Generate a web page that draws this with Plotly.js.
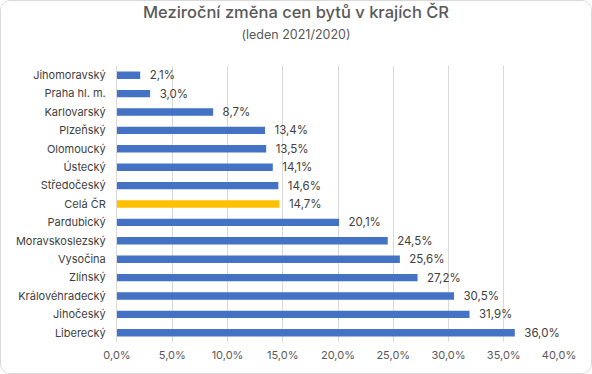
<!DOCTYPE html>
<html>
<head>
<meta charset="utf-8">
<script src="https://cdn.plot.ly/plotly-3.0.1.min.js"></script>
<style>
html,body{margin:0;padding:0;background:#fff;}
#chart{width:592px;height:374px;box-sizing:border-box;border:1px solid #d9d9d9;border-radius:10px;overflow:hidden;}
</style>
</head>
<body>
<div id="chart"></div>
<script>
const regions = ["Jihomoravský","Praha hl. m.","Karlovarský","Plzeňský","Olomoucký","Ústecký","Středočeský","Celá ČR","Pardubický","Moravskoslezský","Vysočina","Zlínský","Královéhradecký","Jihočeský","Liberecký"];
const changes = [2.1,3.0,8.7,13.4,13.5,14.1,14.6,14.7,20.1,24.5,25.6,27.2,30.5,31.9,36.0];
const highlight = "Celá ČR";
const xTicks = [0,5,10,15,20,25,30,35,40];

const colors = regions.map(r => r === highlight ? "#FFC000" : "#4472C4");
const font = "Inter, 'Noto Sans', sans-serif";

Plotly.newPlot("chart", [{
  type: "bar",
  orientation: "h",
  y: regions,
  x: changes,
  marker: {color: colors},
  width: 0.4,
  texttemplate: "\u00a0\u00a0%{x:.1f}%",
  textposition: "outside",
  constraintext: "none",
  cliponaxis: false,
  textfont: {family: font, size: 11.5, color: "#404040"},
  hoverinfo: "none"
}], {
  width: 590, height: 372,
  margin: {l: 116, r: 32, t: 65, b: 31},
  paper_bgcolor: "#fff", plot_bgcolor: "#fff",
  separators: ", ",
  showlegend: false,
  title: {
    text: "Meziroční změna cen bytů v krajích ČR<br><span style='font-size:12.5px;font-weight:normal'>(leden 2021/2020)</span>",
    x: 0.5, xanchor: "center", y: 0.955, yanchor: "top",
    font: {family: font, size: 16.5, color: "#595959", weight: 500}
  },
  xaxis: {
    range: [0, 40],
    tickvals: xTicks,
    ticktext: xTicks.map(v => v.toFixed(1).replace(".", ",") + "%"),
    showgrid: true, gridcolor: "#d9d9d9", gridwidth: 1,
    zeroline: false, showline: false, ticks: "", ticklabelstandoff: 5,
    tickfont: {family: font, size: 11, color: "#595959"},
    fixedrange: true
  },
  yaxis: {
    type: "category",
    autorange: "reversed",
    showgrid: false, zeroline: false,
    showline: true, linecolor: "#d9d9d9", linewidth: 1,
    ticks: "", ticklabelstandoff: 8,
    tickfont: {family: font, size: 11, color: "#404040"},
    fixedrange: true
  },
  bargap: 0.6
}, {staticPlot: true, displayModeBar: false});
</script>
</body>
</html>
